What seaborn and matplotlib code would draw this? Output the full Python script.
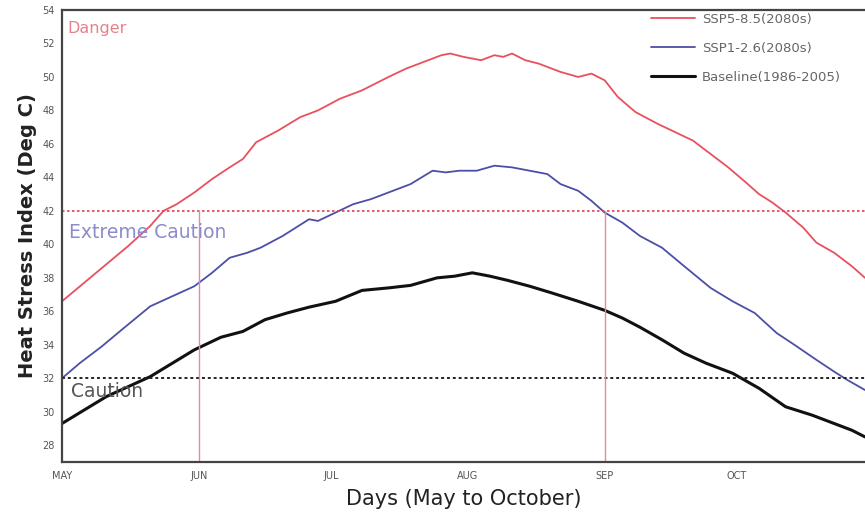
import numpy as np
import pandas as pd
import matplotlib
matplotlib.use("Agg")
import matplotlib.pyplot as plt
import seaborn as sns

# ---- data ----
red_days = [0, 5, 10, 15, 20, 23, 26, 30, 34, 38, 41, 44, 49, 54, 58, 63, 68, 74, 78, 82, 86, 88,
            91, 95, 98, 100, 102, 105, 108, 113, 117, 120, 123, 126, 130, 135, 139, 143, 147, 151,
            155, 158, 161, 164, 168, 171, 175, 179, 182]
red_vals = [36.6, 37.7, 38.8, 39.9, 41.1, 42.0, 42.4, 43.1, 43.9, 44.6, 45.1, 46.1, 46.8, 47.6, 48.0,
            48.7, 49.2, 50.0, 50.5, 50.9, 51.3, 51.4, 51.2, 51.0, 51.3, 51.2, 51.4, 51.0, 50.8, 50.3,
            50.0, 50.2, 49.8, 48.8, 47.9, 47.2, 46.7, 46.2, 45.4, 44.6, 43.7, 43.0, 42.5, 41.9, 41.0,
            40.1, 39.5, 38.7, 38.0]

blue_days = [0, 4, 9, 14, 20, 25, 30, 34, 38, 42, 45, 50, 56, 58, 62, 66, 70, 75, 79, 84, 87, 90,
             94, 98, 102, 106, 110, 113, 117, 120, 123, 127, 131, 136, 141, 147, 152, 157, 162, 166,
             171, 175, 178, 182]
blue_vals = [32.0, 32.9, 33.9, 35.0, 36.3, 36.9, 37.5, 38.3, 39.2, 39.5, 39.8, 40.5, 41.5, 41.4, 41.9,
             42.4, 42.7, 43.2, 43.6, 44.4, 44.3, 44.4, 44.4, 44.7, 44.6, 44.4, 44.2, 43.6, 43.2, 42.6,
             41.9, 41.3, 40.5, 39.8, 38.7, 37.4, 36.6, 35.9, 34.7, 34.0, 33.1, 32.4, 31.9, 31.3]

black_days = [0, 5, 10, 15, 20, 25, 30, 36, 41, 46, 51, 56, 62, 68, 74, 79, 85, 89, 93, 97, 101, 106,
              111, 117, 123, 127, 131, 136, 141, 146, 152, 158, 164, 170, 175, 179, 182]
black_vals = [29.3, 30.1, 30.9, 31.5, 32.1, 32.9, 33.7, 34.45, 34.8, 35.5, 35.9, 36.25, 36.6, 37.25,
              37.4, 37.55, 38.0, 38.1, 38.3, 38.1, 37.85, 37.5, 37.1, 36.6, 36.06, 35.6, 35.05, 34.3,
              33.5, 32.9, 32.3, 31.4, 30.3, 29.8, 29.3, 28.9, 28.5]

series_names = ["SSP5-8.5(2080s)", "SSP1-2.6(2080s)", "Baseline(1986-2005)"]
month_ticks = [0, 31, 61, 92, 123, 153]
month_labels = ["MAY", "JUN", "JUL", "AUG", "SEP", "OCT"]
y_ticks = [28, 30, 32, 34, 36, 38, 40, 42, 44, 46, 48, 50, 52, 54]
danger_thr = 42
caution_thr = 32
marker_days = [31, 123]

# ---- plot ----
sns.set_style("white")
plt.rcParams['font.family'] = ['DejaVu Sans']

fig = plt.figure(figsize=(8.65, 5.19), dpi=100)
ax = fig.add_axes([62/865, 57/519, 1 - 62/865, (462-10)/519])

colors = ["#e8505e", "#4b4fa6", "#111111"]
widths = [1.3, 1.3, 2.2]
for d, v, name, c, w in zip([red_days, blue_days, black_days],
                            [red_vals, blue_vals, black_vals],
                            series_names, colors, widths):
    df = pd.DataFrame({"day": d, "value": v})
    sns.lineplot(data=df, x="day", y="value", ax=ax, color=c, linewidth=w, label=name)

ax.axhline(danger_thr, color="#e04050", linestyle=(0, (1.5, 1.5)), linewidth=1.2)
ax.axhline(caution_thr, color="#222222", linestyle=(0, (1.5, 1.5)), linewidth=1.4)
for md in marker_days:
    ax.plot([md, md], [27, danger_thr], color="#e88a96", linewidth=1.0)

ax.set_xlim(0, 182)
ax.set_ylim(27, 54)
ax.set_xticks(month_ticks)
ax.set_xticklabels(month_labels)
ax.set_yticks(y_ticks)
ax.tick_params(axis="both", labelsize=7, colors="#555555", length=3, direction="out", width=0.8)
ax.tick_params(axis="y", pad=2)

for s in ["left", "bottom", "top"]:
    ax.spines[s].set_color("#444444")
    ax.spines[s].set_linewidth(1.6)
ax.spines["right"].set_visible(False)

ax.set_xlabel("Days (May to October)", fontsize=15, color="#222222", labelpad=6)
ax.set_ylabel("Heat Stress Index (Deg C)", fontsize=14, color="#222222", fontweight="bold", labelpad=4)

ax.text(1.2, 52.9, "Danger", color="#e8808c", fontsize=11.5, va="center", ha="left")
ax.text(1.5, 40.7, "Extreme Caution", color="#8a8ccc", fontsize=13.5, va="center", ha="left")
ax.text(2.0, 31.2, "Caution", color="#555555", fontsize=13.5, va="center", ha="left")

leg = ax.legend(loc="upper right", frameon=False, fontsize=9.5, handlelength=3.4,
                handletextpad=0.5, labelspacing=1.2, bbox_to_anchor=(0.985, 1.02))
for t in leg.get_texts():
    t.set_color("#666666")

fig.savefig("out.png", dpi=100)
